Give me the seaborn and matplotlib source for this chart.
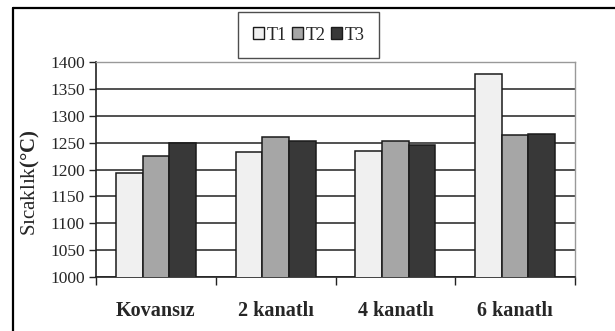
import matplotlib
matplotlib.use("Agg")
import matplotlib.pyplot as plt
import seaborn as sns
import pandas as pd
from matplotlib.patches import Patch
from matplotlib.lines import Line2D

categories = ["Kovansız", "2 kanatlı", "4 kanatlı", "6 kanatlı"]
series = ["T1", "T2", "T3"]
t1 = [1193, 1233, 1235, 1378]
t2 = [1226, 1261, 1253, 1264]
t3 = [1250, 1253, 1246, 1266]
colors = ["#f0f0f0", "#a6a6a6", "#383838"]

df = pd.DataFrame({
    "kategori": categories * 3,
    "seri": [s for s in series for _ in categories],
    "deger": t1 + t2 + t3,
})

sns.set_theme(style="white")
plt.rcParams["font.family"] = ["Liberation Serif", "DejaVu Serif"]
plt.rcParams["mathtext.fontset"] = "custom"
plt.rcParams["mathtext.rm"] = "Liberation Serif"
plt.rcParams["mathtext.bf"] = "Liberation Serif:bold"

W, H = 615, 331
fig = plt.figure(figsize=(W / 100, H / 100), dpi=100)
ax = fig.add_axes([96 / W, 1 - 277 / H, (575 - 96) / W, (277 - 62) / H])

sns.barplot(data=df, x="kategori", y="deger", hue="seri", palette=colors,
            width=0.667, edgecolor="#1a1a1a", linewidth=1.1, ax=ax,
            legend=False, zorder=3)

ax.set_ylim(1000, 1400)
ax.set_yticks(range(1000, 1401, 50))
ax.set_xlim(-0.5, 3.5)
ax.yaxis.grid(True, color="#333333", linewidth=1.2, zorder=0)
ax.set_axisbelow(True)

for side in ["top", "right"]:
    ax.spines[side].set_color("#999999")
    ax.spines[side].set_linewidth(1.0)
for side in ["left", "bottom"]:
    ax.spines[side].set_color("#222222")
    ax.spines[side].set_linewidth(1.2)

ax.tick_params(axis="y", which="major", left=True, length=5, width=1.0,
               color="#222222", labelsize=12.5, pad=3)
ax.set_xticks([-0.5, 0.5, 1.5, 2.5, 3.5], minor=True)
ax.tick_params(axis="x", which="minor", bottom=True, length=6, width=1.0,
               color="#222222")
ax.tick_params(axis="x", which="major", bottom=False, length=0, pad=17,
               labelsize=14.5)
for lbl in ax.get_xticklabels():
    lbl.set_fontweight("bold")

ax.set_xlabel("")
ax.set_ylabel("Sıcaklık" + r"$\mathbf{(°C)}$", fontsize=15, labelpad=4)
ax.yaxis.set_label_coords(-0.112, 0.44)

handles = [Patch(facecolor=c, edgecolor="#1a1a1a", linewidth=1.0) for c in colors]
leg = fig.legend(handles, series, loc="center",
                 bbox_to_anchor=(308.5 / W, 1 - 35 / H), ncol=3,
                 frameon=True, fancybox=False, fontsize=13,
                 handlelength=0.6, handleheight=0.6, handletextpad=0.15,
                 columnspacing=0.3, borderpad=0.8)
leg.get_frame().set_edgecolor("#222222")
leg.get_frame().set_linewidth(1.0)

# outer frame (top and left edges visible)
fig.add_artist(Line2D([13 / W, 1.0], [1 - 8 / H, 1 - 8 / H],
                      transform=fig.transFigure, color="black", linewidth=1.6))
fig.add_artist(Line2D([13 / W, 13 / W], [0.0, 1 - 8 / H],
                      transform=fig.transFigure, color="black", linewidth=1.6))

fig.savefig("out.png", dpi=100)
